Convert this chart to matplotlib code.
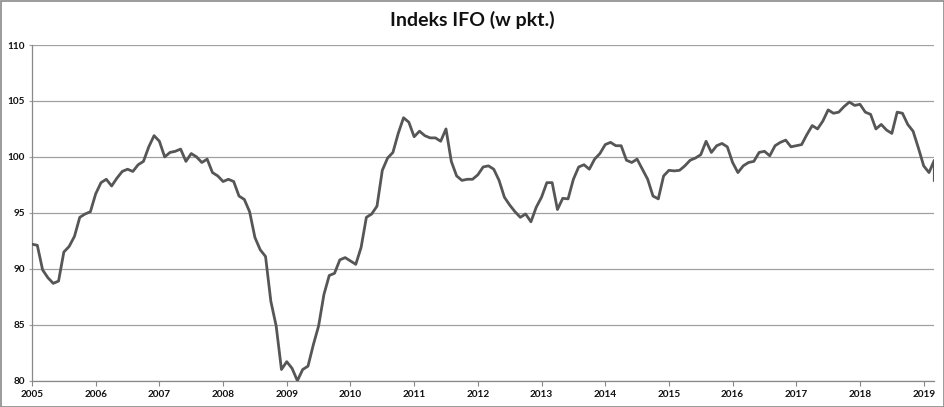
import matplotlib
matplotlib.use("Agg")
import matplotlib.pyplot as plt
from matplotlib.patches import Rectangle

# ---- data (monthly IFO index) ----
years = list(range(2005, 2020))
v2005 = [92.2, 92.1, 89.9, 89.2, 88.7, 88.9, 91.5, 92.0, 92.9, 94.6, 94.9, 95.1]
v2006 = [96.7, 97.7, 98.0, 97.4, 98.1, 98.7, 98.9, 98.7, 99.3, 99.6, 100.9, 101.9]
v2007 = [101.4, 100.0, 100.4, 100.5, 100.7, 99.6, 100.3, 100.0, 99.5, 99.8, 98.6, 98.3]
v2008 = [97.8, 98.0, 97.8, 96.5, 96.2, 95.1, 92.8, 91.7, 91.1, 87.1, 84.9, 81.0]
v2009 = [81.7, 81.1, 80.0, 81.0, 81.3, 83.2, 84.9, 87.7, 89.4, 89.6, 90.8, 91.0]
v2010 = [90.7, 90.4, 91.9, 94.6, 94.9, 95.6, 98.8, 99.9, 100.4, 102.1, 103.5, 103.1]
v2011 = [101.8, 102.3, 101.9, 101.7, 101.7, 101.4, 102.5, 99.6, 98.3, 97.9, 98.0, 98.0]
v2012 = [98.4, 99.1, 99.2, 98.9, 97.9, 96.4, 95.7, 95.1, 94.6, 94.9, 94.2, 95.5]
v2013 = [96.4, 97.7, 97.7, 95.3, 96.3, 96.25, 98.0, 99.1, 99.3, 98.9, 99.8, 100.3]
v2014 = [101.1, 101.3, 101.0, 101.0, 99.7, 99.5, 99.8, 98.9, 98.0, 96.5, 96.25, 98.3]
v2015 = [98.8, 98.75, 98.8, 99.2, 99.7, 99.9, 100.2, 101.4, 100.4, 101.0, 101.2, 100.9]
v2016 = [99.5, 98.6, 99.2, 99.5, 99.6, 100.4, 100.5, 100.1, 101.0, 101.3, 101.5, 100.9]
v2017 = [101.0, 101.1, 102.0, 102.8, 102.5, 103.2, 104.2, 103.9, 104.0, 104.5, 104.9, 104.6]
v2018 = [104.7, 104.0, 103.8, 102.5, 102.9, 102.4, 102.1, 104.0, 103.9, 102.9, 102.3, 100.8]
v2019 = [99.2, 98.6, 99.7, 97.9]
months2019 = ["2019-01", "2019-02", "2019-03", "2019-03"]

values = (v2005 + v2006 + v2007 + v2008 + v2009 + v2010 + v2011 + v2012 +
          v2013 + v2014 + v2015 + v2016 + v2017 + v2018 + v2019)
months = [f"{y}-{m:02d}" for y in range(2005, 2019) for m in range(1, 13)] + months2019

y_ticks = [80, 85, 90, 95, 100, 105, 110]
title = "Indeks IFO (w pkt.)"

# ---- plot ----
plt.rcParams['font.family'] = ['Lato', 'DejaVu Sans']

x = [int(s[:4]) + (int(s[5:7]) - 1) / 12.0 for s in months]

W, H = 945, 407
fig = plt.figure(figsize=(W / 100, H / 100), dpi=100)
ax = fig.add_axes([32 / W, 1 - 380.7 / H, (934.3 - 32) / W, (380.7 - 45) / H])

grid_c = "#a0a0a0"
axis_c = "#888888"
ax.plot(x, values, color="#565656", linewidth=2.0, solid_joinstyle="round",
        zorder=3)

ax.set_xlim(2005, 2019 + 2 / 12.0)
ax.set_ylim(80, 110)
ax.set_yticks(y_ticks)
ax.set_yticklabels([str(t) for t in y_ticks])
ax.set_xticks(years)
ax.set_xticklabels([str(y) for y in years])

ax.grid(axis="y", color=grid_c, linewidth=0.9)
ax.set_axisbelow(True)
for s in ("top", "right"):
    ax.spines[s].set_visible(False)
for s in ("left", "bottom"):
    ax.spines[s].set_color(axis_c)
    ax.spines[s].set_linewidth(0.9)

ax.tick_params(axis="x", direction="out", length=3.5, width=0.8, color=axis_c,
               pad=3, labelsize=7.2)
ax.tick_params(axis="y", direction="out", length=2.5, width=0.8, color=grid_c,
               pad=2.5, labelsize=7.2)
for lbl in ax.get_xticklabels() + ax.get_yticklabels():
    lbl.set_fontweight("bold")
    lbl.set_color("#111111")

fig.text(0.5, 1 - 20 / H, title, ha="center", va="center", fontsize=14,
         fontweight="bold", color="#111111")

fig.patches.append(Rectangle((0.5 / W, 0.5 / H), 1 - 1.5 / W, 1 - 1.5 / H,
                             transform=fig.transFigure, fill=False,
                             edgecolor="#8a8a8a", linewidth=1.2))

fig.savefig("out.png", dpi=100)
